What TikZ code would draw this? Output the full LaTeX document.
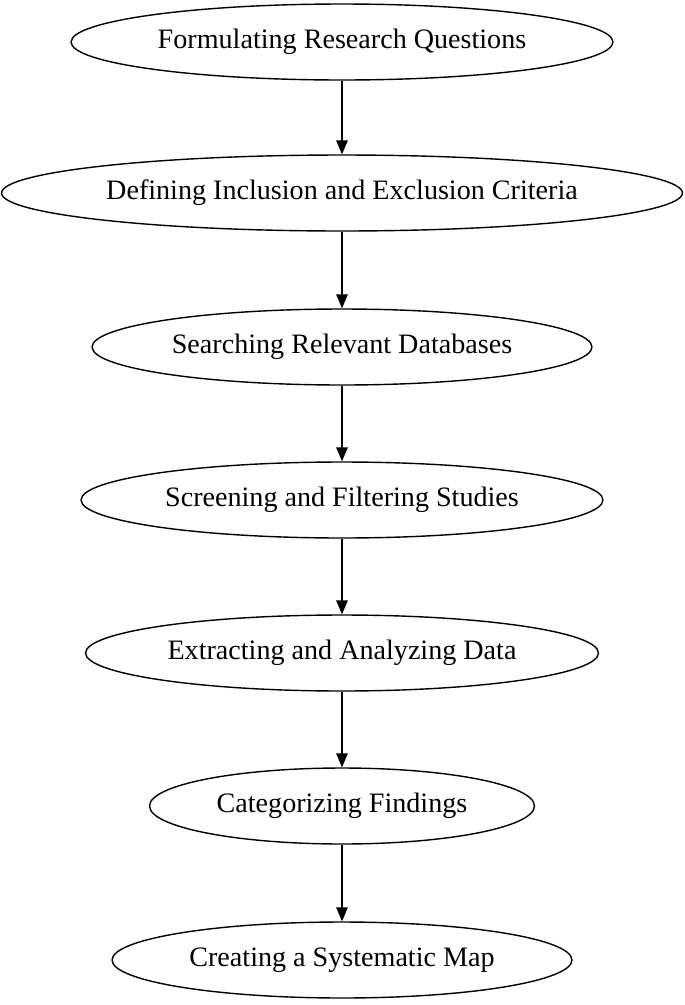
\documentclass[tikz,border=0pt]{standalone}
\usepackage{fontspec}
\setmainfont{Liberation Serif}
\usetikzlibrary{shapes,arrows,positioning}

\begin{document}
\begin{tikzpicture}[x=0.02cm,y=-0.02cm,
    stage/.style={ellipse, draw, thick, inner sep=0pt, minimum height=1.52cm, font=\fontsize{16}{19}\selectfont},
    flow/.style={-triangle 45, thick}]
    \useasboundingbox (0,0) rectangle (685,1005);
    % Process steps
    \node[stage, minimum width=10.84cm] (rq) at (342,42) {Formulating Research Questions};
    \node[stage, minimum width=13.62cm] (crit) at (342,193) {Defining Inclusion and Exclusion Criteria};
    \node[stage, minimum width=10.0cm] (search) at (342,347) {Searching Relevant Databases};
    \node[stage, minimum width=10.44cm] (screen) at (342,500) {Screening and Filtering Studies};
    \node[stage, minimum width=10.26cm] (extract) at (342,653) {Extracting and Analyzing Data};
    \node[stage, minimum width=7.7cm] (categ) at (342,806) {Categorizing Findings};
    \node[stage, minimum width=9.2cm] (map) at (342,960) {Creating a Systematic Map};
    
    % Connectors
    \foreach \a/\b in {rq/crit, crit/search, search/screen, screen/extract, extract/categ, categ/map}
        \draw[flow] (\a) -- (\b);
\end{tikzpicture}
\end{document}
